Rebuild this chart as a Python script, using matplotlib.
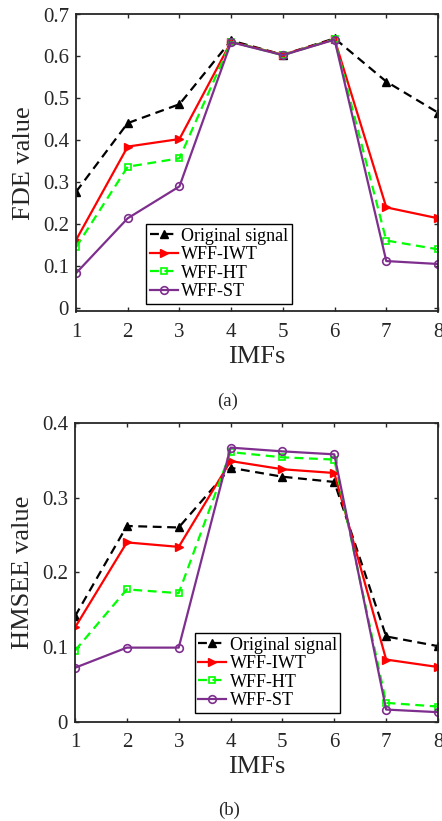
import matplotlib
matplotlib.use("Agg")
import matplotlib.pyplot as plt

imfs = [1, 2, 3, 4, 5, 6, 7, 8]

fde_original = [0.277, 0.441, 0.486, 0.638, 0.604, 0.643, 0.540, 0.466]
fde_iwt = [0.162, 0.385, 0.403, 0.635, 0.604, 0.641, 0.240, 0.214]
fde_ht = [0.145, 0.337, 0.357, 0.635, 0.603, 0.641, 0.161, 0.140]
fde_st = [0.083, 0.214, 0.290, 0.634, 0.603, 0.640, 0.112, 0.105]

hm_original = [0.141, 0.262, 0.260, 0.340, 0.328, 0.321, 0.114, 0.101]
hm_iwt = [0.126, 0.240, 0.234, 0.349, 0.338, 0.333, 0.083, 0.073]
hm_ht = [0.095, 0.177, 0.172, 0.361, 0.354, 0.351, 0.025, 0.020]
hm_st = [0.072, 0.099, 0.099, 0.367, 0.362, 0.358, 0.016, 0.0125]

labels = ["Original signal", "WFF-IWT", "WFF-HT", "WFF-ST"]

plt.rcParams['font.family'] = ['Liberation Serif', 'DejaVu Serif']
plt.rcParams['mathtext.fontset'] = 'stix'

W, H = 442, 821
fig = plt.figure(figsize=(W / 100, H / 100), dpi=100)

def add_ax(l, r, t, b):
    return fig.add_axes([l / W, 1 - b / H, (r - l) / W, (b - t) / H])

ax1 = add_ax(76, 438, 14.5, 311.5)
ax2 = add_ax(75, 438, 423, 721.5)

purple = '#7E2F8E'
txtc = '#262626'

def draw(ax, o, i, h, s):
    ax.plot(imfs, o, color='black', ls=(0, (4, 2.5)), lw=1.6, marker='^', ms=6,
            mfc='black', mec='black', label=labels[0])
    ax.plot(imfs, i, color='red', ls='-', lw=1.6, marker='>', ms=6,
            mfc='red', mec='red', label=labels[1])
    ax.plot(imfs, h, color='#00FF00', ls=(0, (4, 2.5)), lw=1.6, marker='s', ms=4.5,
            mfc='none', mec='#00FF00', mew=1.2, label=labels[2])
    ax.plot(imfs, s, color=purple, ls='-', lw=1.6, marker='o', ms=5.5,
            mfc='none', mec=purple, mew=1.2, label=labels[3])
    ax.set_xlim(1, 8)
    ax.set_xticks(imfs)
    ax.tick_params(direction='in', top=True, right=True, labelsize=15, length=3,
                   width=1, colors=txtc)
    ax.tick_params(axis='x', pad=8)
    ax.tick_params(axis='y', pad=5)
    for sp in ax.spines.values():
        sp.set_linewidth(1.3)
        sp.set_color(txtc)

def legend(ax, anchor):
    leg = ax.legend(loc='upper left', bbox_to_anchor=anchor,
                    fontsize=13, frameon=True, fancybox=False, edgecolor='black',
                    handlelength=1.55, handletextpad=0.2, borderpad=0.2,
                    labelspacing=0.08, borderaxespad=0, framealpha=1)
    leg.get_frame().set_linewidth(1.0)
    return leg

draw(ax1, fde_original, fde_iwt, fde_ht, fde_st)
ax1.set_ylim(-0.0083, 0.7)
ax1.set_yticks([0, 0.1, 0.2, 0.3, 0.4, 0.5, 0.6, 0.7])
ax1.set_yticklabels(['0', '0.1', '0.2', '0.3', '0.4', '0.5', '0.6', '0.7'])
ax1.set_xlabel('IMFs', fontsize=19, labelpad=3, color=txtc)
ax1.set_ylabel('FDE value', fontsize=19, labelpad=6, color=txtc)
legend(ax1, ((146 - 76) / 362, (311.5 - 224) / 297))

draw(ax2, hm_original, hm_iwt, hm_ht, hm_st)
ax2.set_ylim(0, 0.4)
ax2.set_yticks([0, 0.1, 0.2, 0.3, 0.4])
ax2.set_yticklabels(['0', '0.1', '0.2', '0.3', '0.4'])
ax2.set_xlabel('IMFs', fontsize=19, labelpad=3, color=txtc)
ax2.set_ylabel('HMSEE value', fontsize=19, labelpad=6, color=txtc)
legend(ax2, ((194.5 - 75) / 363, (721.5 - 633) / 298.5))

fig.text(228 / W, 1 - 401 / H, '(a)', ha='center', va='center', fontsize=13.5, color=txtc)
fig.text(229 / W, 1 - 810 / H, '(b)', ha='center', va='center', fontsize=13.5, color=txtc)

fig.savefig('out.png', dpi=100)
